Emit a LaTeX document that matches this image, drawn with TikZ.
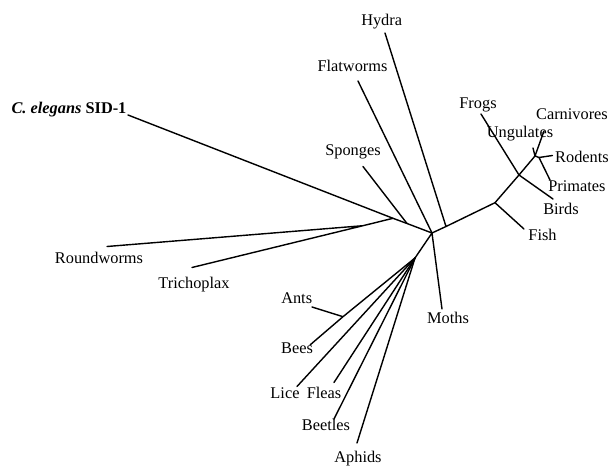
\documentclass[tikz,border=0pt]{standalone}
\usepackage{fontspec}
\setmainfont{Liberation Serif}
\begin{document}
\begin{tikzpicture}[x=0.02cm, y=-0.02cm, font=\fontsize{9.3}{11}\selectfont, line join=round, line cap=round, thick]
			\useasboundingbox (0,0) rectangle (610,466);
			% inner nodes of the tree
			\coordinate (H) at (432,233);
			\coordinate (Jr) at (393,218.3);
			\coordinate (Js) at (407,223.5);
			\coordinate (Jt) at (363,225.7);
			\coordinate (Jh) at (446,226.5);
			\coordinate (Jf) at (495,202.7);
			\coordinate (Jb) at (519,175);
			\coordinate (Jm) at (535,156);
			\coordinate (Jp) at (539,157.5);
			\coordinate (Ji) at (415,258);
			\coordinate (Ja) at (343,316.7);
			% tips of the branches
			\coordinate (tCel) at (128,115);
			\coordinate (tRound) at (107,246.5);
			\coordinate (tTrich) at (192,267.5);
			\coordinate (tSpong) at (363,166.5);
			\coordinate (tFlat) at (358,81);
			\coordinate (tHydra) at (385,33);
			\coordinate (tFish) at (524,229);
			\coordinate (tBirds) at (553,199);
			\coordinate (tFrogs) at (481,114);
			\coordinate (tCarn) at (544,131);
			\coordinate (tUng) at (533,148);
			\coordinate (tRod) at (552.5,155.5);
			\coordinate (tPrim) at (550,180);
			\coordinate (tMoth) at (442,309);
			\coordinate (tAnts) at (312,307);
			\coordinate (tBees) at (310,345);
			\coordinate (tLice) at (297,386.5);
			\coordinate (tFleas) at (334,382.5);
			\coordinate (tBeet) at (334,419);
			\coordinate (tAph) at (357,443);
			% branches
			\draw (tCel)--(Jr)--(Js)--(H);
			\draw (tRound)--(Jt)--(Jr) (tTrich)--(Jt);
			\draw (tSpong)--(Js) (tFlat)--(H);
			\draw (H)--(Jh)--(Jf)--(Jb)--(Jm) (tHydra)--(Jh);
			\draw (Jf)--(tFish) (tFrogs)--(Jb)--(tBirds);
			\draw (tUng)--(Jm)--(tCarn) (Jm)--(Jp)--(tRod) (Jp)--(tPrim);
			\draw (H)--(tMoth) (H)--(Ji);
			\draw (Ji)--(Ja)--(tBees) (Ja)--(tAnts);
			\foreach \t in {tLice,tFleas,tBeet,tAph}{
				\draw (Ji)--(\t);
			}
			% labels
			\node (Cel) at (69,110) {\textbf{\textit{C. elegans}} \textbf{SID-1}};
			\node (Round) at (99,258.3) {Roundworms};
			\node (Trich) at (194,285) {Trichoplax};
			\node (Spong) at (353,152.3) {Sponges};
			\node (Flat) at (352.5,65.7) {Flatworms};
			\node (Hydra) at (381.7,21.7) {Hydra};
			\node (Frogs) at (478,105) {Frogs};
			\node (Carn) at (572,114) {Carnivores};
			\node (Ung) at (520,133.3) {Ungulates};
			\node (Rod) at (582,156.7) {Rodents};
			\node (Prim) at (577,186) {Primates};
			\node (Birds) at (561,209) {Birds};
			\node (Fish) at (542.5,235) {Fish};
			\node (Moth) at (448,318.3) {Moths};
			\node (Ants) at (296.7,298.3) {Ants};
			\node (Bees) at (297,348.3) {Bees};
			\node (Lice) at (285,393.3) {Lice};
			\node (Fleas) at (324,393.3) {Fleas};
			\node (Beet) at (326,425) {Beetles};
			\node (Aph) at (358,458.3) {Aphids};
		\end{tikzpicture}
\end{document}
